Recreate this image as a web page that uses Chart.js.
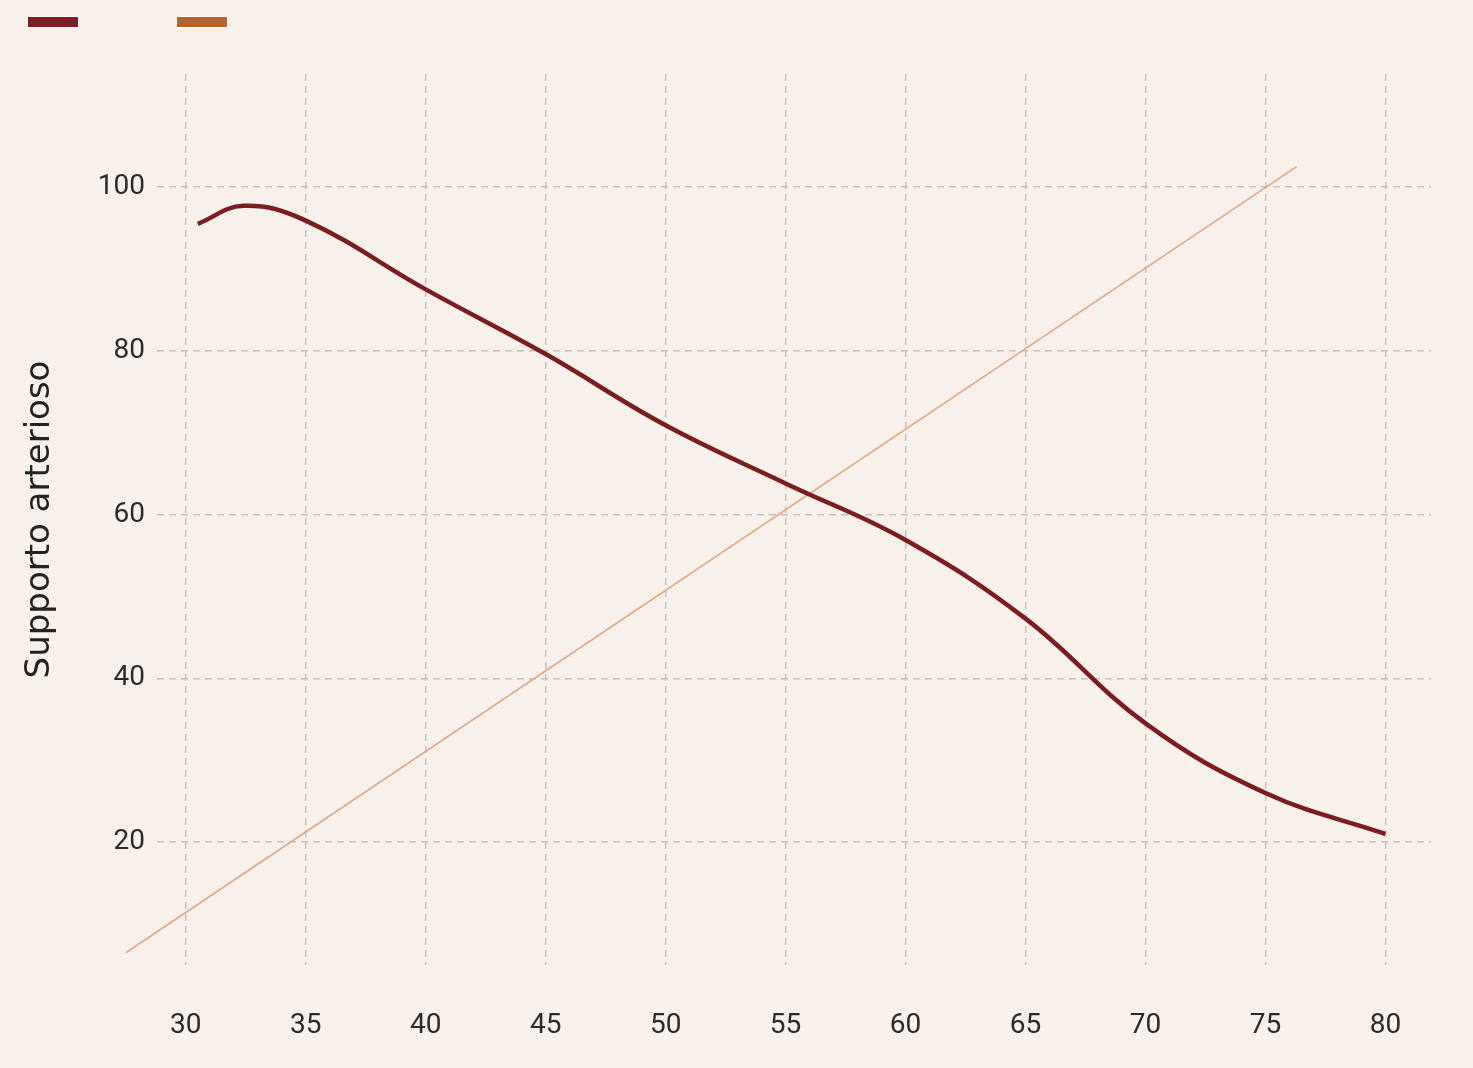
<!DOCTYPE html>
<html>
<head>
<meta charset="utf-8">
<script src="https://cdn.jsdelivr.net/npm/chart.js@4"></script>
<style>
  html, body { margin: 0; padding: 0; background: #f7f0eb; }
  #wrap { width: 1473px; height: 1068px; }
</style>
</head>
<body>
<div id="wrap"><canvas id="chart"></canvas></div>
<script>
// età (anni)
const ageArterial = [30.5, 32.4, 35, 40, 45, 50, 55, 60, 65, 70, 75, 80];
const arterialSupport = [95.5, 97.7, 95.9, 87.5, 79.6, 70.9, 63.8, 56.9, 47.3, 34.5, 26.0, 21.0];

const ageLinear = [27.5, 76.3];
const linearValues = [6.5, 102.5];

const xTicks = [30, 35, 40, 45, 50, 55, 60, 65, 70, 75, 80];
const yTicks = [20, 40, 60, 80, 100];

const darkRed = "#7a1d22";
const lightOrange = "#dfa987";
const swatchColors = ["#7a1f24", "#b4652f"];

const gridColor = "#c7c0bc";
const tickColor = "#2b2b2b";

// swatch in alto a sinistra (legenda senza testo)
const swatches = {
  id: "swatches",
  afterDraw(chart) {
    const ctx = chart.ctx;
    ctx.save();
    swatchColors.forEach((c, i) => {
      const x = 28 + i * 149;
      ctx.fillStyle = c;
      ctx.fillRect(x, 17, 50, 10);
      ctx.strokeStyle = "#ffffff";
      ctx.lineWidth = 1;
      ctx.strokeRect(x - 0.5, 16.5, 51, 11);
    });
    ctx.restore();
  }
};

const bg = {
  id: "bg",
  beforeDraw(chart) {
    const ctx = chart.ctx;
    ctx.save();
    ctx.fillStyle = "#f7f0eb";
    ctx.fillRect(0, 0, chart.width, chart.height);
    ctx.restore();
  }
};

new Chart(document.getElementById("chart"), {
  type: "line",
  data: {
    datasets: [
      {
        data: ageArterial.map((x, i) => ({x, y: arterialSupport[i]})),
        borderColor: darkRed, borderWidth: 4.5, pointRadius: 0,
        tension: 0.4, clip: false, order: 1,
      },
      {
        data: ageLinear.map((x, i) => ({x, y: linearValues[i]})),
        borderColor: lightOrange, borderWidth: 1.6, pointRadius: 0,
        clip: false, order: 2,
      },
    ],
  },
  options: {
    responsive: true,
    maintainAspectRatio: false,
    animation: false,
    layout: {padding: {top: 74, right: 42, left: 0, bottom: 0}},
    plugins: {legend: {display: false}, tooltip: {enabled: false}},
    scales: {
      x: {
        type: "linear", min: 28.8, max: 81.9,
        afterBuildTicks: s => { s.ticks = xTicks.map(v => ({value: v})); },
        afterFit: s => { s.height = 103; },
        border: {display: false, dash: [7, 5]},
        grid: {color: gridColor, lineWidth: 1.5, drawTicks: false},
        ticks: {color: tickColor, padding: 44, font: {family: "Roboto", size: 28}},
      },
      y: {
        type: "linear", min: 5, max: 113.8,
        afterBuildTicks: s => { s.ticks = yTicks.map(v => ({value: v})); },
        afterFit: s => { s.width = 157; },
        border: {display: false, dash: [7, 5]},
        grid: {color: gridColor, lineWidth: 1.5, drawTicks: false},
        ticks: {color: tickColor, padding: 12, font: {family: "Roboto", size: 28}},
        title: {
          display: true, text: "Supporto arterioso", color: "#222",
          font: {family: "DejaVu Sans", size: 34}, padding: {top: 20, bottom: 0},
        },
      },
    },
  },
  plugins: [bg, swatches],
});
</script>
</body>
</html>
